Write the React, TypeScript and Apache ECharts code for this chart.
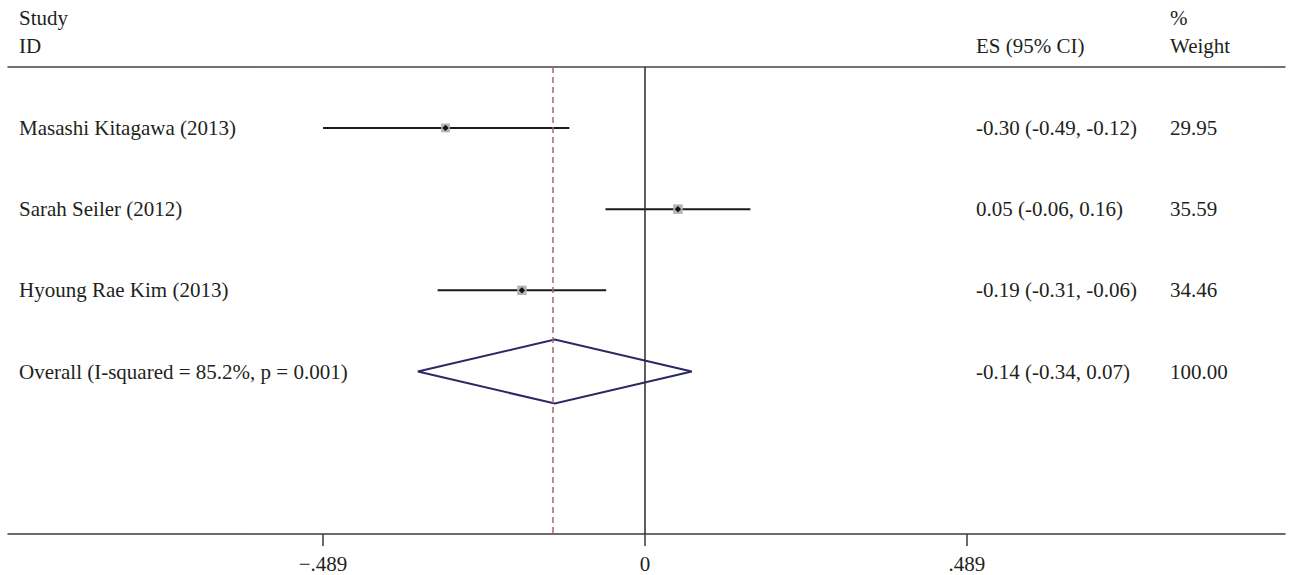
import React, { useEffect, useRef } from "react";
import * as echarts from "echarts";

// ---- data ----
const studies = ["Masashi Kitagawa (2013)", "Sarah Seiler (2012)", "Hyoung Rae Kim (2013)"];
const esValues = [-0.303, 0.05, -0.187];
const ciLow = [-0.489, -0.06, -0.315];
const ciHigh = [-0.115, 0.16, -0.059];
const esLabels = ["-0.30 (-0.49, -0.12)", "0.05 (-0.06, 0.16)", "-0.19 (-0.31, -0.06)"];
const weights = [29.95, 35.59, 34.46];
const weightLabels = ["29.95", "35.59", "34.46"];

const overallName = "Overall (I-squared = 85.2%, p = 0.001)";
const overallEs = -0.137;
const overallLow = -0.345;
const overallHigh = 0.071;
const overallEsLabel = "-0.14 (-0.34, 0.07)";
const overallWeightLabel = "100.00";

const tickValues = [-0.489, 0, 0.489];
const tickLabels = ["\u2212.489", "0", ".489"];

// ---- layout / style ----
const FONT = '"Liberation Serif", "Times New Roman", serif';
const FS = 21;
const TXT = "#231f20";
const COL_STUDY = 19;
const COL_ES = 976;
const COL_W = 1170;

export default function App() {
  const ref = useRef<HTMLDivElement>(null);

  useEffect(() => {
    if (!ref.current) return;
    const chart = echarts.init(ref.current, undefined, { renderer: "svg" });

    const rowNames = [...studies, overallName];
    const rowEs = [...esLabels, overallEsLabel];
    const rowW = [...weightLabels, overallWeightLabel];

    const textStyle = (text: string, align: string) => ({
      text,
      fill: TXT,
      fontSize: FS,
      fontFamily: FONT,
      align,
      verticalAlign: "middle",
    });

    const option: any = {
      animation: false,
      grid: { left: 8, right: 8, top: 67, bottom: 41, containLabel: false },
      xAxis: [
        {
          type: "value",
          min: -0.9675,
          max: 0.972,
          position: "bottom",
          axisLine: { show: true, lineStyle: { color: "#3a3a3a", width: 1.5 } },
          axisTick: {
            show: true,
            length: 12,
            customValues: tickValues,
            lineStyle: { color: "#3a3a3a", width: 1.5 },
          },
          axisLabel: {
            show: true,
            customValues: tickValues,
            formatter: (v: number) => {
              const i = tickValues.findIndex((t) => Math.abs(t - v) < 1e-6);
              return i >= 0 ? tickLabels[i] : "";
            },
            color: TXT,
            fontSize: FS,
            fontFamily: FONT,
            margin: 19,
          },
          splitLine: { show: false },
        },
        {
          type: "value",
          min: -0.9675,
          max: 0.972,
          position: "top",
          axisLine: { show: true, lineStyle: { color: "#444", width: 1.5 } },
          axisTick: { show: false },
          axisLabel: { show: false },
          splitLine: { show: false },
        },
      ],
      yAxis: {
        type: "value",
        inverse: true,
        min: 0.25,
        max: 6,
        show: false,
      },
      graphic: [
        { type: "text", x: COL_STUDY, y: 18, style: textStyle("Study", "left") },
        { type: "text", x: COL_STUDY, y: 46, style: textStyle("ID", "left") },
        { type: "text", x: COL_ES, y: 46, style: textStyle("ES (95% CI)", "left") },
        { type: "text", x: COL_W, y: 18, style: textStyle("%", "left") },
        { type: "text", x: COL_W, y: 46, style: textStyle("Weight", "left") },
      ],
      series: [
        // reference lines
        {
          type: "custom",
          xAxisIndex: 0,
          data: [],
          renderItem: () => null,
          z: 1,
          markLine: {
            silent: true,
            symbol: "none",
            label: { show: false },
            data: [
              { xAxis: 0, lineStyle: { color: "#2a2a2a", width: 1.5, type: "solid" } },
              { xAxis: overallEs, lineStyle: { color: "#b0646e", width: 1.5, type: [6, 4] } },
            ],
          },
        },
        // table text
        {
          type: "custom",
          z: 3,
          data: rowNames.map((_, i) => [0, i + 1]),
          encode: { x: 0, y: 1 },
          renderItem: (params: any, api: any) => {
            const i = params.dataIndex;
            const y = api.coord([0, api.value(1)])[1];
            return {
              type: "group",
              children: [
                { type: "text", x: COL_STUDY, y, style: textStyle(rowNames[i], "left") },
                { type: "text", x: COL_ES, y, style: textStyle(rowEs[i], "left") },
                { type: "text", x: COL_W, y, style: textStyle(rowW[i], "left") },
              ],
            };
          },
        },
        // study CIs and markers
        {
          type: "custom",
          z: 4,
          data: studies.map((_, i) => [esValues[i], i + 1, ciLow[i], ciHigh[i], weights[i]]),
          encode: { x: [0, 2, 3], y: 1 },
          renderItem: (params: any, api: any) => {
            const row = api.value(1);
            const pE = api.coord([api.value(0), row]);
            const pL = api.coord([api.value(2), row]);
            const pH = api.coord([api.value(3), row]);
            const sz = Math.sqrt(api.value(4)) * 1.6;
            const d = 3.2;
            return {
              type: "group",
              children: [
                {
                  type: "line",
                  shape: { x1: pL[0], y1: pL[1], x2: pH[0], y2: pH[1] },
                  style: { stroke: "#1a1a1a", lineWidth: 2 },
                },
                {
                  type: "rect",
                  shape: { x: pE[0] - sz / 2, y: pE[1] - sz / 2, width: sz, height: sz },
                  style: { fill: "#b3b3b3" },
                },
                {
                  type: "polygon",
                  shape: {
                    points: [
                      [pE[0] - d, pE[1]],
                      [pE[0], pE[1] - d],
                      [pE[0] + d, pE[1]],
                      [pE[0], pE[1] + d],
                    ],
                  },
                  style: { fill: "#111" },
                },
              ],
            };
          },
        },
        // overall diamond
        {
          type: "custom",
          z: 4,
          data: [[overallEs, 4, overallLow, overallHigh]],
          encode: { x: [0, 2, 3], y: 1 },
          renderItem: (params: any, api: any) => {
            const row = api.value(1);
            const pE = api.coord([api.value(0), row]);
            const pL = api.coord([api.value(2), row]);
            const pH = api.coord([api.value(3), row]);
            const h = 32;
            return {
              type: "polygon",
              shape: {
                points: [
                  [pL[0], pL[1]],
                  [pE[0], pE[1] - h],
                  [pH[0], pH[1]],
                  [pE[0], pE[1] + h],
                ],
              },
              style: { fill: "none", stroke: "#2b2866", lineWidth: 2 },
            };
          },
        },
      ],
    };

    chart.setOption(option);
    return () => chart.dispose();
  }, []);

  return (
    <div
      ref={ref}
      style={{ position: "fixed", left: 0, top: 0, width: 1293, height: 575, background: "#fff" }}
    />
  );
}
